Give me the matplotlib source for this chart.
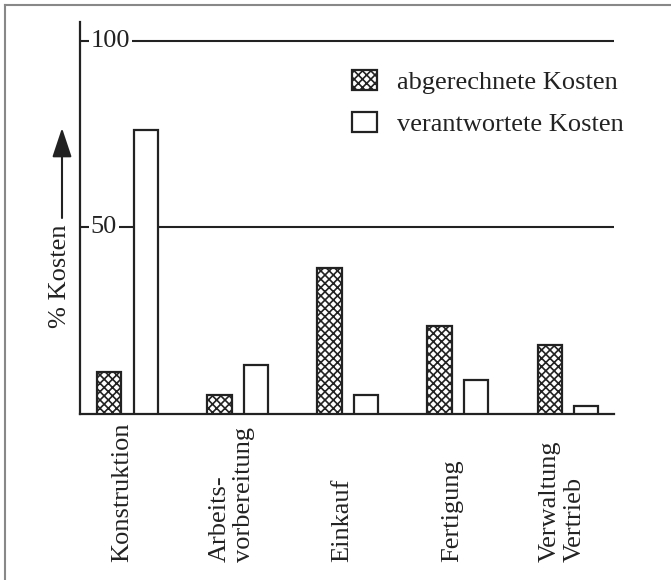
import matplotlib
matplotlib.use("Agg")
import matplotlib.pyplot as plt
import matplotlib.transforms as mtransforms
from matplotlib.lines import Line2D
import numpy as np

# ---- data ----
categories = ["Konstruktion", "Arbeits-\nvorbereitung", "Einkauf", "Fertigung", "Verwaltung\nVertrieb"]
abgerechnet = [11, 5, 39, 23.5, 18.5]     # abgerechnete Kosten (%)
verantwortet = [76, 13, 5, 9, 2]          # verantwortete Kosten (%)
ytick_values = [50, 100]
ytick_labels = ["50", "100"]
legend_labels = ["abgerechnete Kosten", "verantwortete Kosten"]
ylabel_text = "% Kosten"

plt.rcParams['font.family'] = ['Liberation Serif', 'DejaVu Serif']
plt.rcParams['hatch.linewidth'] = 1.2
FS = 19
INK = '#222222'

W, H = 671, 580
fig = plt.figure(figsize=(W / 100, H / 100), dpi=100)
fig.patch.set_facecolor('white')

def fx(px):
    return px / W

def fy(py):
    return 1 - py / H

ax = fig.add_axes([fx(80), fy(413.5), fx(614) - fx(80), fy(22) - fy(413.5)])
ax.set_xlim(-0.432, 4.42)
ax.set_ylim(0, 105)

x = np.arange(len(categories))
bw = 0.22
off = 0.165
b1 = ax.bar(x - off, abgerechnet, bw, facecolor='white', edgecolor=INK,
            hatch='xxxx', linewidth=1.6, zorder=3)
b2 = ax.bar(x + off, verantwortet, bw, facecolor='white', edgecolor=INK,
            linewidth=1.6, zorder=3)

# spines
for s in ['top', 'right']:
    ax.spines[s].set_visible(False)
for s in ['left', 'bottom']:
    ax.spines[s].set_linewidth(1.6)
    ax.spines[s].set_color(INK)
ax.set_xticks([])
ax.set_yticks([])

# horizontal reference lines with labels sitting on them
for v, lab in zip(ytick_values, ytick_labels):
    ax.axhline(v, color=INK, lw=1.5, zorder=1)
    tr = mtransforms.blended_transform_factory(ax.transAxes, ax.transData)
    ax.text(0.02, v, lab, transform=tr, ha='left', va='center', fontsize=FS,
            color=INK, zorder=2,
            bbox=dict(facecolor='white', edgecolor='none', pad=1.5))

# category labels (rotated, bottom aligned)
trc = mtransforms.blended_transform_factory(ax.transData, fig.transFigure)
for xi, c in zip(x, categories):
    ax.text(xi - 0.05, fy(562), c, transform=trc, rotation=90, ha='center',
            va='bottom', multialignment='left', fontsize=FS, color=INK,
            linespacing=1.15)

# y label with arrow
fig.text(fx(60), fy(276), ylabel_text, rotation=90, ha='center', va='center',
         fontsize=FS, color=INK)
ax.annotate('', xy=(fx(62), fy(128)), xycoords='figure fraction',
            xytext=(fx(62), fy(218)), textcoords='figure fraction',
            arrowprops=dict(arrowstyle='-|>,head_length=0.9,head_width=0.3',
                            lw=1.5, color=INK, mutation_scale=20,
                            shrinkA=0, shrinkB=0))

# legend
leg = ax.legend([b1, b2], legend_labels, loc='upper left',
                bbox_to_anchor=(fx(352), fy(70)), bbox_transform=fig.transFigure,
                frameon=False, fontsize=FS, borderpad=0, borderaxespad=0,
                handlelength=0.95, handleheight=0.8, handletextpad=0.75,
                labelspacing=0.68)
for t in leg.get_texts():
    t.set_color(INK)

# scan border (top and left)
fig.add_artist(Line2D([fx(5), 1], [fy(5), fy(5)], color='#888888', lw=1.5))
fig.add_artist(Line2D([fx(5), fx(5)], [fy(5), 0], color='#888888', lw=1.5))

fig.savefig('out.png', dpi=100, facecolor='white')
